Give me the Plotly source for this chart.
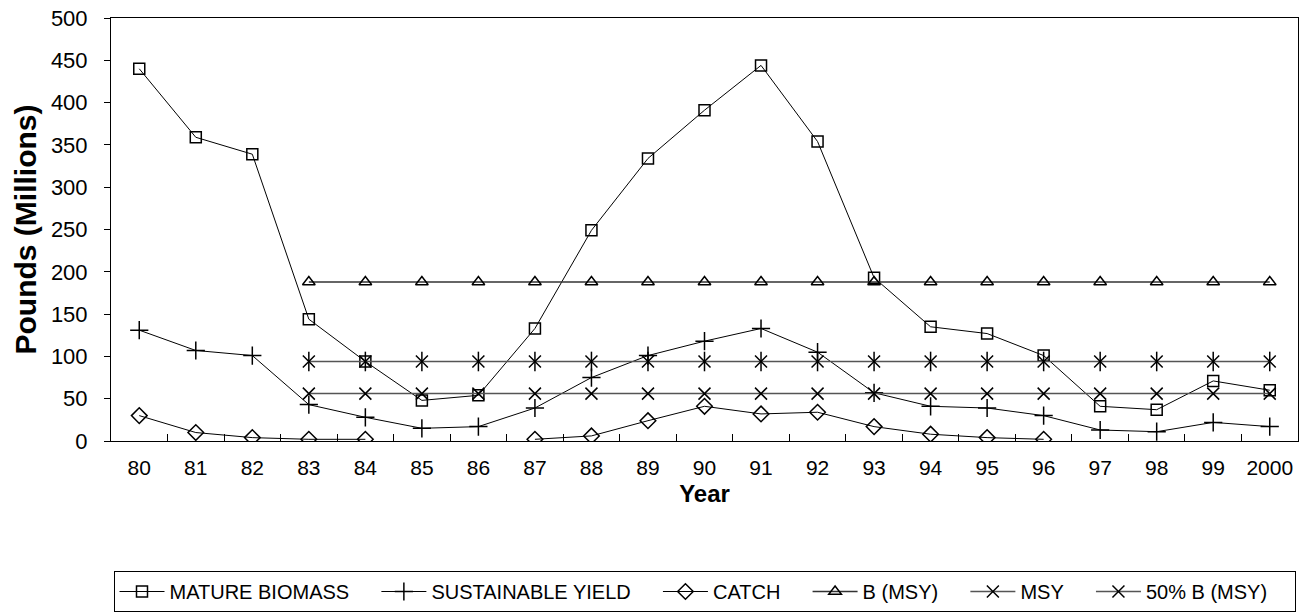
import plotly.graph_objects as go

years = ["80", "81", "82", "83", "84", "85", "86", "87", "88", "89", "90",
         "91", "92", "93", "94", "95", "96", "97", "98", "99", "2000"]

mature_biomass = [440, 359, 339, 144, 94, 48, 54, 133, 249, 334, 391,
                  444, 354, 193, 135, 127, 101, 41, 37, 71, 60]
sustainable_yield = [131, 107, 101, 43, 28, 15, 17, 39, 75, 101, 118,
                     133, 105, 57, 41, 39, 30, 13, 11, 22, 17]
catch = [30, 10, 4, 2, 2, None, None, 2, 6, 24, 41,
         32, 34, 17, 8, 4, 2, None, None, None, None]
b_msy = [None, None, None] + [188] * 18
msy = [None, None, None] + [56] * 18
half_b_msy = [None, None, None] + [94] * 18

FONT = "Liberation Sans, Arial, sans-serif"
PAD = "\u00a0" * 4

fig = go.Figure()

def add(name, y, symbol, size, line_color="black", line_width=1, showlegend=True, mode="lines+markers"):
    fig.add_trace(go.Scatter(
        x=years, y=y, name=name + PAD, mode=mode, showlegend=showlegend,
        connectgaps=False,
        line=dict(color=line_color, width=line_width),
        marker=dict(symbol=symbol, size=size, color="black",
                    line=dict(color="black", width=1.5)),
    ))

add("MATURE BIOMASS", mature_biomass, "square-open", 11)
add("SUSTAINABLE YIELD", sustainable_yield, "cross-thin-open", 13)
add("CATCH", catch, "diamond-open", 12)
add("B (MSY)", b_msy, "triangle-up-open", 11, line_color="#333333", line_width=1.5)
add("MSY", msy, "x-thin-open", 12, line_color="#555555", line_width=1.5)
add("50% B (MSY)", half_b_msy, "x-thin-open", 12, line_color="#555555", line_width=1.5)
add("50% B (MSY)", half_b_msy, "line-ns-open", 14, showlegend=False, mode="markers")

fig.update_layout(
    width=1306, height=614,
    margin=dict(l=111, r=8, t=18, b=173, autoexpand=False),
    paper_bgcolor="white", plot_bgcolor="white",
    font=dict(family=FONT, size=22, color="black"),
    showlegend=True,
    legend=dict(
        orientation="h", x=0.5, xanchor="center",
        yref="container", y=1 - 571 / 614, yanchor="top",
        bordercolor="black", borderwidth=1, font=dict(size=20),
        itemwidth=45, tracegroupgap=0,
    ),
    xaxis=dict(
        type="category", range=[-0.5, 20.5],
        showline=True, linecolor="black", linewidth=1, mirror=True,
        ticks="inside", ticklen=7, tickcolor="black", tickson="boundaries",
        showgrid=False, zeroline=False, tickangle=0,
        tickfont=dict(size=21), ticklabelstandoff=8,
        title=dict(text="<b>Year</b>", font=dict(size=24), standoff=6),
    ),
    yaxis=dict(
        range=[0, 500], tickvals=list(range(0, 501, 50)),
        showline=True, linecolor="black", linewidth=1, mirror=True,
        ticks="outside", ticklen=6, tickcolor="black",
        showgrid=False, zeroline=False,
        tickfont=dict(size=22), ticklabelstandoff=12,
        title=dict(text="<b>Pounds (Millions)</b>", font=dict(size=30), standoff=5),
    ),
)

fig.write_html("out.html")
